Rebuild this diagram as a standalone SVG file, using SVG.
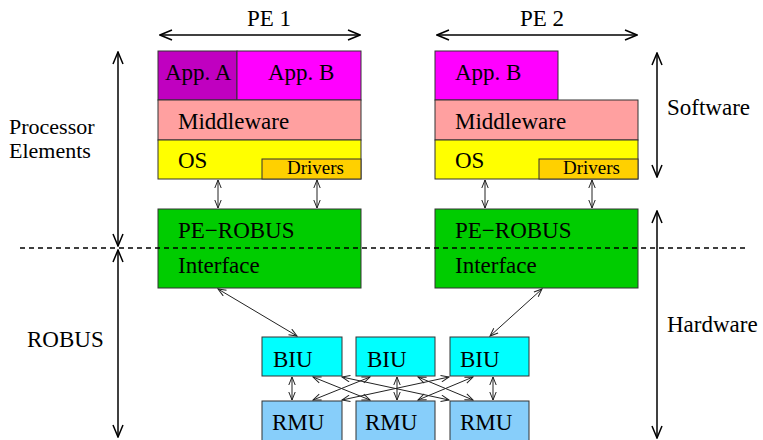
<svg xmlns="http://www.w3.org/2000/svg" width="763" height="440" viewBox="0 0 763 440">
<defs>
<marker id="big" markerUnits="userSpaceOnUse" markerWidth="14" markerHeight="12" refX="13" refY="6" orient="auto-start-reverse">
<path d="M1,1 L13,6 L1,11" fill="none" stroke="#000" stroke-width="1.5"/>
</marker>
<marker id="sm" markerUnits="userSpaceOnUse" markerWidth="10" markerHeight="8" refX="9" refY="4" orient="auto-start-reverse">
<path d="M1,0.8 L9,4 L1,7.2" fill="none" stroke="#222" stroke-width="1"/>
</marker>
</defs>
<style>
text{font-family:"Liberation Serif","Times New Roman",serif;font-size:23px;fill:#000}
.dr{font-size:19px}
.pl{font-size:22px}
.box{stroke:#333;stroke-width:1}
.ba{stroke:#000;stroke-width:1.5;fill:none;marker-start:url(#big);marker-end:url(#big)}
.sa{stroke:#222;stroke-width:1;fill:none;marker-start:url(#sm);marker-end:url(#sm)}
</style>
<rect width="763" height="440" fill="#fff"/>

<g id="labels">
<text x="247" y="26">PE 1</text>
<text x="520" y="26">PE 2</text>
<text class="pl" x="9" y="134">Processor</text>
<text class="pl" x="9" y="158">Elements</text>
<text x="27" y="347">ROBUS</text>
<text x="667" y="115">Software</text>
<text x="667" y="332">Hardware</text>
</g>

<g id="pe1-stack">
<rect class="box" x="158" y="51" width="79" height="49" fill="#c000c0"/>
<rect class="box" x="237" y="51" width="124" height="49" fill="#ff00ff"/>
<rect class="box" x="158" y="100" width="203" height="40" fill="#ffa0a0"/>
<rect class="box" x="158" y="140" width="203" height="39" fill="#ffff00"/>
<rect class="box" x="262" y="159" width="99" height="20" fill="#ffd000"/>
<text x="165" y="80">App. A</text>
<text x="268" y="80">App. B</text>
<text x="178" y="129">Middleware</text>
<text x="178" y="168">OS</text>
<text class="dr" x="287" y="174">Drivers</text>
</g>

<g id="pe2-stack">
<rect class="box" x="435" y="51" width="123" height="49" fill="#ff00ff"/>
<rect class="box" x="435" y="100" width="203" height="40" fill="#ffa0a0"/>
<rect class="box" x="435" y="140" width="203" height="39" fill="#ffff00"/>
<rect class="box" x="539" y="159" width="99" height="20" fill="#ffd000"/>
<text x="455" y="80">App. B</text>
<text x="455" y="129">Middleware</text>
<text x="455" y="168">OS</text>
<text class="dr" x="563" y="174">Drivers</text>
</g>

<g id="pe1-robus">
<rect class="box" x="158" y="209" width="203" height="79" fill="#00cc00"/>
<text x="178" y="238">PE−ROBUS</text>
<text x="178" y="273">Interface</text>
</g>
<g id="pe2-robus">
<rect class="box" x="435" y="209" width="203" height="79" fill="#00cc00"/>
<text x="455" y="238">PE−ROBUS</text>
<text x="455" y="273">Interface</text>
</g>

<g id="biu1"><rect class="box" x="262" y="337" width="80" height="39" fill="#00ffff"/><text x="273" y="367">BIU</text></g>
<g id="biu2"><rect class="box" x="356" y="337" width="79" height="39" fill="#00ffff"/><text x="367" y="367">BIU</text></g>
<g id="biu3"><rect class="box" x="450" y="337" width="79" height="39" fill="#00ffff"/><text x="460" y="367">BIU</text></g>
<g id="rmu1"><rect class="box" x="262" y="401" width="80" height="42" fill="#87cefa"/><text x="272" y="430">RMU</text></g>
<g id="rmu2"><rect class="box" x="356" y="401" width="79" height="42" fill="#87cefa"/><text x="365" y="430">RMU</text></g>
<g id="rmu3"><rect class="box" x="450" y="401" width="79" height="42" fill="#87cefa"/><text x="460" y="430">RMU</text></g>

<g id="connectors">
<line x1="20" y1="248" x2="745" y2="248" stroke="#000" stroke-width="1.3" stroke-dasharray="5,4"/>
<line class="ba" x1="160" y1="35" x2="360" y2="35"/>
<line class="ba" x1="437" y1="35" x2="637" y2="35"/>
<line class="ba" x1="118" y1="52" x2="118" y2="246"/>
<line class="ba" x1="118" y1="250" x2="118" y2="437"/>
<line class="ba" x1="657" y1="53" x2="657" y2="177"/>
<line class="ba" x1="657" y1="211" x2="657" y2="438"/>
<line class="sa" x1="218" y1="180" x2="218" y2="208"/>
<line class="sa" x1="317" y1="180" x2="317" y2="208"/>
<line class="sa" x1="485" y1="180" x2="485" y2="208"/>
<line class="sa" x1="592" y1="180" x2="592" y2="208"/>
<line class="sa" x1="218" y1="289" x2="297" y2="336"/>
<line class="sa" x1="542" y1="289" x2="490" y2="336"/>
<line class="sa" x1="292" y1="377" x2="292" y2="400"/>
<line class="sa" x1="397" y1="377" x2="397" y2="400"/>
<line class="sa" x1="493" y1="377" x2="493" y2="400"/>
<line class="sa" x1="313" y1="377" x2="370" y2="400"/>
<line class="sa" x1="370" y1="377" x2="313" y2="400"/>
<line class="sa" x1="342" y1="377" x2="449" y2="400"/>
<line class="sa" x1="449" y1="377" x2="342" y2="400"/>
<line class="sa" x1="418" y1="377" x2="473" y2="400"/>
<line class="sa" x1="473" y1="377" x2="418" y2="400"/>
</g>
</svg>
